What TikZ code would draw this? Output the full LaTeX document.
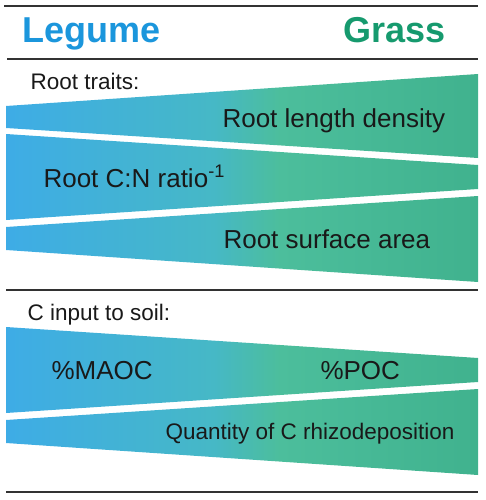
\documentclass[tikz,border=0pt]{standalone}
\usepackage{fontspec}
\setmainfont{Liberation Sans}
\usepackage{tikz}
\usetikzlibrary{positioning,calc}

\definecolor{lgblue}{RGB}{62,172,230}
\definecolor{lgteal}{RGB}{70,184,198}
\definecolor{lggreen}{RGB}{76,190,156}
\definecolor{lgdark}{RGB}{64,178,142}
\definecolor{legumetext}{RGB}{27,150,220}
\definecolor{grasstext}{RGB}{22,154,110}
\definecolor{rulegray}{RGB}{50,50,50}
\pgfdeclarehorizontalshading{legumegrass}{100bp}{color(0bp)=(lgblue); color(25bp)=(lgblue); color(47bp)=(lgteal); color(54bp)=(lggreen); color(75bp)=(lgdark); color(100bp)=(lgdark)}

\begin{document}
\begin{tikzpicture}[
    x=1pt, y=-1pt,
    wedge/.style={shading=legumegrass, draw=none},
    rule/.style={draw=rulegray, line width=1.4pt},
    head/.style={anchor=base west, font=\fontsize{36}{40}\selectfont\bfseries},
    section/.style={anchor=base west, font=\fontsize{22.5}{26}\selectfont, text=black!90},
    trait/.style={anchor=base west, font=\fontsize{26}{30}\selectfont, text=black!90}
]
\useasboundingbox (0,0) rectangle (485,500);

% Header
\draw[rule] (4,6) -- (478,6);
\node[head, text=legumetext] (legume) at (19,43) {Legume};
\node[head, text=grasstext] (grass) at (340,43) {Grass};
\draw[rule] (7,59) -- (478,59);

% Part 1: Root traits
\node[section] (roottraits) at (27,90) {Root traits:};
\path[wedge] (6,106) -- (478,74) -- (478,158) -- (6,128) -- cycle;
\path[wedge] (6,134) -- (478,165) -- (478,189) -- (6,220) -- cycle;
\path[wedge] (6,227) -- (478,196) -- (478,282) -- (6,250) -- cycle;
\node[trait] (rld) at (219,128) {Root length density};
\node[trait] (rcn) at (40,187) {Root C:N ratio\textsuperscript{-1}};
\node[trait] (rsa) at (220,248) {Root surface area};
\draw[rule] (6,290) -- (478,290);

% Part 2: C input to soil
\node[section] (cinput) at (24,320) {C input to soil:};
\path[wedge] (6,327) -- (478,358) -- (478,382) -- (6,413) -- cycle;
\path[wedge] (6,420) -- (478,389) -- (478,475) -- (6,443) -- cycle;
\node[trait] (maoc) at (48,379) {\%MAOC};
\node[trait] (poc) at (317,379) {\%POC};
\node[section] (rhizo) at (162,439) {Quantity of C rhizodeposition};
\draw[rule] (6,492) -- (478,492);

\end{tikzpicture}
\end{document}
